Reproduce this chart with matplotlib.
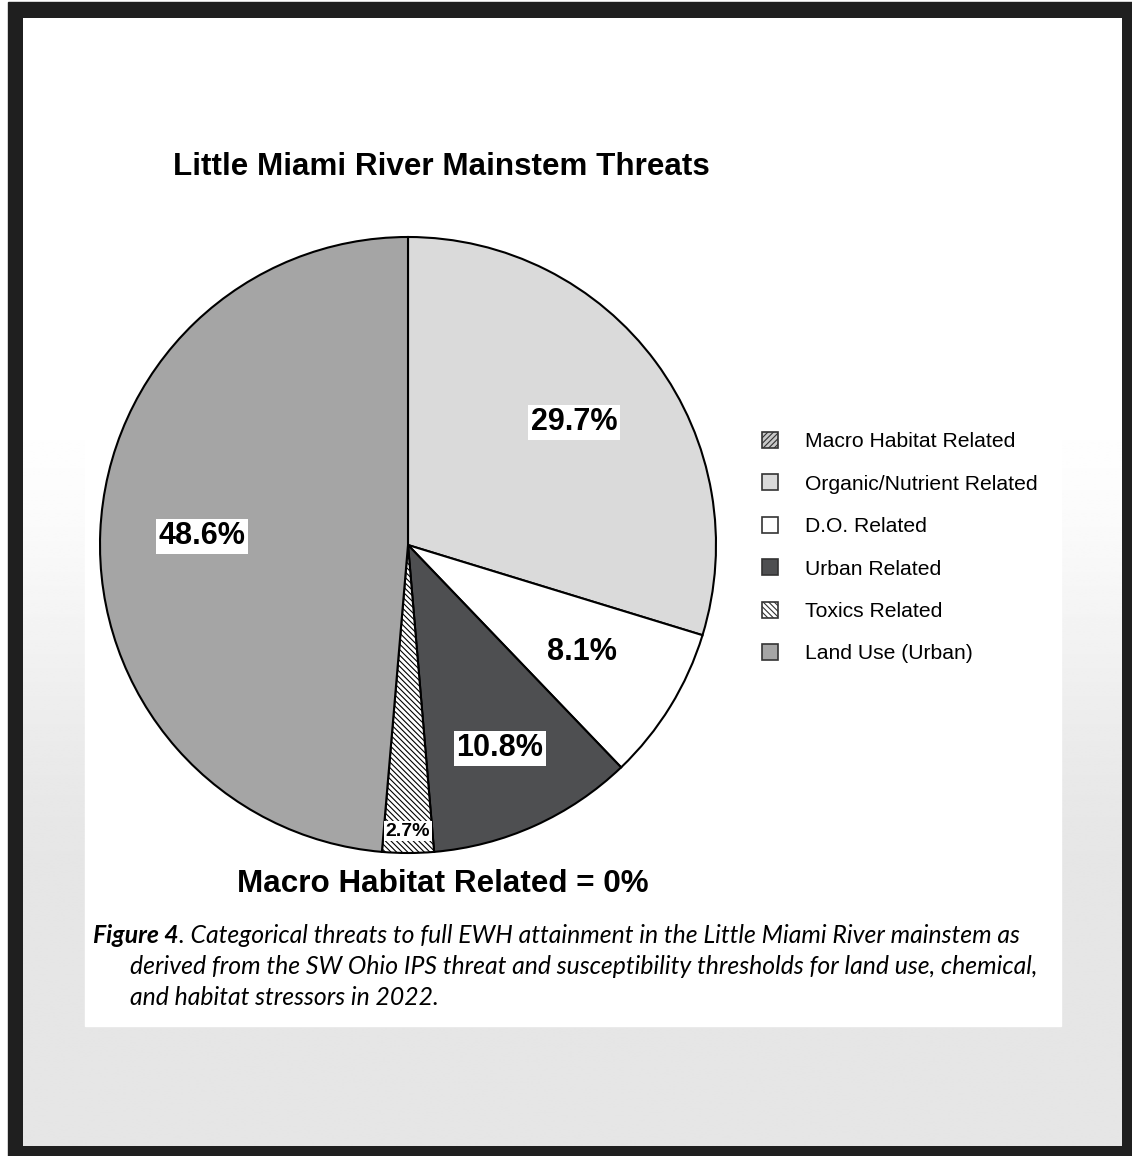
import numpy as np
import matplotlib
matplotlib.use("Agg")
import matplotlib.pyplot as plt
from matplotlib.patches import Rectangle, Patch

# Data
categories = ['Macro Habitat Related', 'Organic/Nutrient Related', 'D.O. Related',
              'Urban Related', 'Toxics Related', 'Land Use (Urban)']
shares = [0.0, 29.7, 8.1, 10.8, 2.7, 48.6]
pct_labels = ['0%', '29.7%', '8.1%', '10.8%', '2.7%', '48.6%']

colors = ['#c8c8c8', '#dadada', '#ffffff', '#4e4f51', '#ffffff', '#a5a5a5']
hatches = ['//////', None, None, None, '\\\\\\\\\\\\', None]
label_dist = [0.0, 0.67, 0.665, 0.725, 0.93, 0.67]
label_size = [0, 22, 22, 22, 14, 22]

W, H = 1132, 1156
fig = plt.figure(figsize=(W / 100, H / 100), dpi=100)
fig.patch.set_facecolor('white')

# background / frame, in pixel coordinates
bg = fig.add_axes([0, 0, 1, 1], zorder=0)
bg.add_patch(Rectangle((8, 2), W - 8, H - 2, color='#1f1f1f', zorder=0))
ys = np.linspace(18, 1146, 400)
shade = np.clip((ys - 380) / 520, 0, 1)
shade = 1 - 0.10 * (3 * shade ** 2 - 2 * shade ** 3)
grad = np.repeat(shade[:, None], 2, axis=1)
bg.imshow(grad, extent=[23, 1122, 1146, 18], cmap='gray', vmin=0, vmax=1,
          aspect='auto', interpolation='bilinear', zorder=1)
bg.add_patch(Rectangle((85, 100), 976, 926, color='white', zorder=2))
bg.set_xlim(0, W)
bg.set_ylim(H, 0)
bg.axis('off')

# pie axes: centre (408, 545) px, radius 308 px
cx, cy, r = 408, 545, 308
ax = fig.add_axes([(cx - r) / W, (H - cy - r) / H, 2 * r / W, 2 * r / H], zorder=1)
ax.patch.set_alpha(0)

plt.rcParams['hatch.color'] = '#555555'
plt.rcParams['hatch.linewidth'] = 0.8

vals = shares[1:]
wedges, _ = ax.pie(vals, colors=colors[1:], startangle=90, counterclock=False,
                   radius=1.0, wedgeprops=dict(edgecolor='black', linewidth=1.5))
for w, h in zip(wedges, hatches[1:]):
    if h:
        w.set_hatch(h)

for w, lab, d, fs in zip(wedges, pct_labels[1:], label_dist[1:], label_size[1:]):
    mid = np.deg2rad((w.theta1 + w.theta2) / 2)
    ax.text(d * np.cos(mid), d * np.sin(mid), lab, ha='center', va='center',
            fontsize=fs, fontweight='bold', family='Liberation Sans',
            bbox=dict(boxstyle='square,pad=0.08', fc='white', ec='none'))
ax.set_xlim(-1, 1)
ax.set_ylim(-1, 1)
ax.set_aspect('equal')

# titles
fig.text(441 / W, 1 - 167 / H, 'Little Miami River Mainstem Threats', ha='center', va='center',
         fontsize=22.6, fontweight='bold', family='Liberation Sans')
fig.text(443 / W, 1 - 884 / H, 'Macro Habitat Related = 0%', ha='center', va='center',
         fontsize=22.6, fontweight='bold', family='Liberation Sans')

# legend
handles = [Patch(facecolor=c, edgecolor='#333333', hatch=h, linewidth=1.2)
           for c, h in zip(colors, hatches)]
fig.legend(handles, categories, loc='upper left', bbox_to_anchor=(762 / W, 1 - 432 / H),
           frameon=False, prop={'family': 'Liberation Sans', 'size': 15.2},
           handlelength=0.77, handleheight=0.77, handletextpad=1.25,
           labelspacing=1.1, borderpad=0, borderaxespad=0)

# caption
cap_kw = dict(family='Lato', style='italic', fontsize=17.8, va='baseline', ha='left')
t1 = fig.text(93 / W, 1 - 943 / H, 'Figure 4', fontweight='bold', **cap_kw)
fig.canvas.draw()
bb = t1.get_window_extent()
fig.text(bb.x1 / W, 1 - 943 / H,
         '. Categorical threats to full EWH attainment in the Little Miami River mainstem as', **cap_kw)
fig.text(130 / W, 1 - 974 / H,
         'derived from the SW Ohio IPS threat and susceptibility thresholds for land use, chemical,', **cap_kw)
fig.text(130 / W, 1 - 1005 / H, 'and habitat stressors in 2022.', **cap_kw)

fig.savefig('out.png', dpi=100)
